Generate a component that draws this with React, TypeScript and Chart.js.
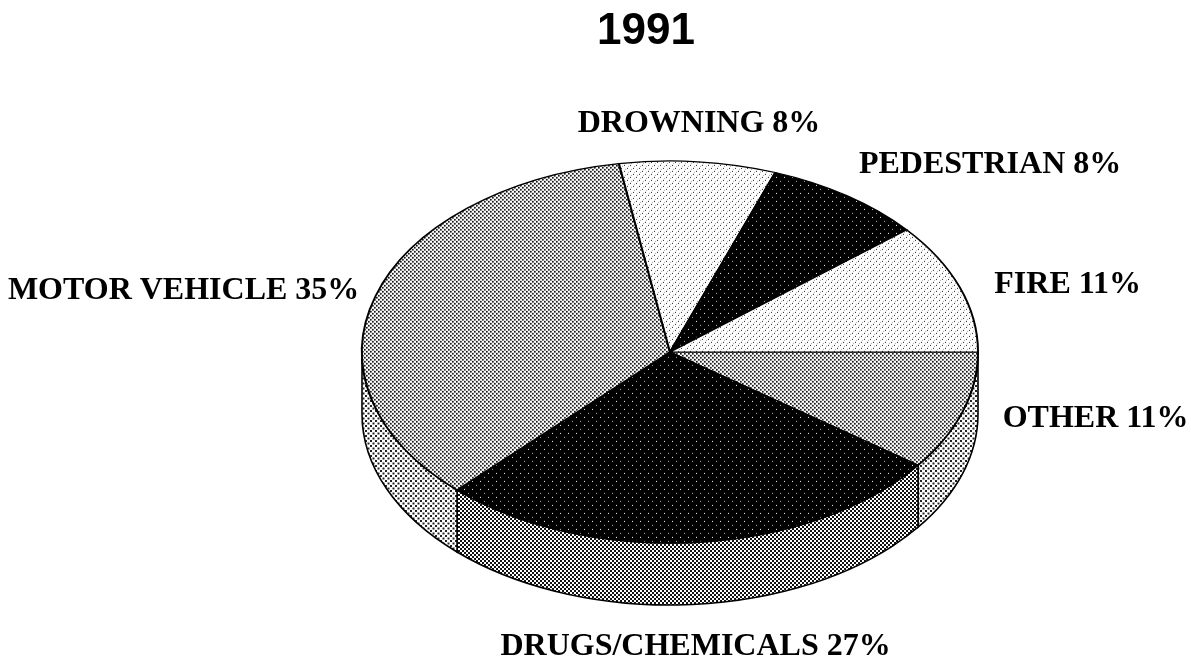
import React, { useEffect, useRef } from "react";
import { Chart, registerables } from "chart.js";

Chart.register(...registerables);

const titleText = "1991";
const categories = ["OTHER", "DRUGS/CHEMICALS", "MOTOR VEHICLE", "DROWNING", "PEDESTRIAN", "FIRE"];
const printedPercents = [11, 27, 35, 8, 8, 11];
const sliceValues = [10.1, 27.05, 35.2, 8.2, 8.4, 11.05];
const topTones = ["medium", "dark", "medium", "light", "dark", "light"];
const sideTones = ["soft", "strong", "soft", "soft", "soft", "soft"];
const labelOffsets = [
  [133, 7],
  [-1, 104],
  [-192, -5],
  [1, -38],
  [143, -31],
  [108, -2],
];

const CENTER_X = 670;
const CENTER_Y = 352;
const RADIUS_X = 308;
const RADIUS_Y = 191;
const DEPTH = 62;
const SQUASH = RADIUS_Y / RADIUS_X;
const LABEL_FONT = "bold 32px 'Liberation Serif', serif";

type Dot = [number, number, number, number, string];
const tileSpecs: Record<string, { size: number; bg: string; dots: Dot[] }> = {
  medium: { size: 4, bg: "#ffffff", dots: [[0, 0, 1.7, 1.7, "#111111"], [2, 2, 1.7, 1.7, "#111111"]] },
  strong: { size: 4, bg: "#ffffff", dots: [[0, 0, 2, 2, "#111111"], [2, 2, 2, 2, "#111111"]] },
  soft: { size: 5, bg: "#ffffff", dots: [[0, 0, 2, 2, "#222222"], [2.5, 2.5, 2, 2, "#222222"]] },
  light: {
    size: 6,
    bg: "#ffffff",
    dots: [
      [0, 0, 1, 1, "#222222"],
      [3, 3, 1, 1, "#222222"],
      [1, 4, 1, 1, "#aaaaaa"],
      [4, 1, 1, 1, "#aaaaaa"],
    ],
  },
  dark: { size: 8, bg: "#000000", dots: [[0, 0, 1, 1, "#ffffff"], [4, 4, 1, 1, "#aaaaaa"]] },
};

function makePattern(ctx: CanvasRenderingContext2D, tone: string, yScale: number) {
  const spec = tileSpecs[tone];
  const tile = document.createElement("canvas");
  tile.width = spec.size;
  tile.height = spec.size;
  const t = tile.getContext("2d")!;
  t.fillStyle = spec.bg;
  t.fillRect(0, 0, spec.size, spec.size);
  spec.dots.forEach(([x, y, w, h, color]) => {
    t.fillStyle = color;
    t.fillRect(x, y, w, h);
  });
  const pattern = ctx.createPattern(tile, "repeat")!;
  pattern.setTransform(new DOMMatrix().scale(1, yScale));
  return pattern;
}

export default function App() {
  const ref = useRef<HTMLCanvasElement>(null);

  useEffect(() => {
    const canvas = ref.current!;
    const ctx = canvas.getContext("2d")!;
    const sidePatterns = sideTones.map((tone) => makePattern(ctx, tone, 1));

    const tiltPlugin = {
      id: "tilt",
      beforeDatasetsDraw(chart: any) {
        const c = chart.ctx;
        const arcs = chart.getDatasetMeta(0).data;
        // side wall of the disc, from the arcs' own angles
        c.save();
        c.strokeStyle = "#000";
        c.lineWidth = 1.6;
        arcs.forEach((arc: any, i: number) => {
          const s = Math.max(arc.startAngle, 0);
          const e = Math.min(arc.endAngle, Math.PI);
          if (e <= s) return;
          c.beginPath();
          c.ellipse(CENTER_X, CENTER_Y, RADIUS_X, RADIUS_Y, 0, s, e);
          c.ellipse(CENTER_X, CENTER_Y + DEPTH, RADIUS_X, RADIUS_Y, 0, e, s, true);
          c.closePath();
          c.fillStyle = sidePatterns[i];
          c.fill();
          c.stroke();
        });
        c.restore();
        // the top of the disc is the library's pie, squashed into an ellipse
        const first = arcs[0];
        c.save();
        c.translate(CENTER_X, CENTER_Y);
        c.scale(1, SQUASH);
        c.translate(-first.x, -first.y);
      },
      afterDatasetsDraw(chart: any) {
        chart.ctx.restore();
      },
      afterDraw(chart: any) {
        const c = chart.ctx;
        const arcs = chart.getDatasetMeta(0).data;
        c.save();
        c.font = LABEL_FONT;
        c.fillStyle = "#000";
        c.textAlign = "center";
        c.textBaseline = "middle";
        arcs.forEach((arc: any, i: number) => {
          const mid = (arc.startAngle + arc.endAngle) / 2;
          const x = CENTER_X + RADIUS_X * Math.cos(mid) + labelOffsets[i][0];
          const y = CENTER_Y + RADIUS_Y * Math.sin(mid) + labelOffsets[i][1];
          c.fillText(`${categories[i]} ${printedPercents[i]}%`, x, y);
        });
        c.restore();
      },
    };

    const chart = new Chart(canvas, {
      type: "pie",
      data: {
        labels: categories,
        datasets: [
          {
            data: sliceValues,
            backgroundColor: topTones.map((tone) => makePattern(ctx, tone, 1 / SQUASH)),
            borderColor: "#000000",
            borderWidth: 2,
            borderJoinStyle: "miter",
            clip: false,
          } as any,
        ],
      },
      options: {
        responsive: false,
        animation: false,
        rotation: 90,
        radius: RADIUS_X,
        layout: { padding: { left: 101, right: 0, top: 0, bottom: 0 } },
        plugins: {
          legend: { display: false },
          tooltip: { enabled: false },
          title: {
            display: true,
            text: titleText,
            fullSize: false,
            color: "#000000",
            font: { family: "'Liberation Sans', sans-serif", size: 44, weight: "bold", lineHeight: 1.2 },
            padding: { top: 5, bottom: 0 },
          },
        },
      } as any,
      plugins: [tiltPlugin],
    });
    return () => chart.destroy();
  }, []);

  return (
    <div style={{ position: "absolute", left: 0, top: 0, width: 1191, height: 662, background: "#fff" }}>
      <canvas ref={ref} width={1191} height={662} style={{ display: "block" }} />
    </div>
  );
}
